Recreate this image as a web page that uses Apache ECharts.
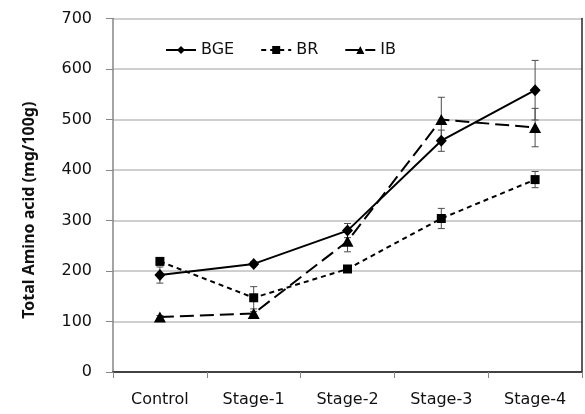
<!DOCTYPE html>
<html>
<head>
<meta charset="utf-8">
<script src="https://cdn.jsdelivr.net/npm/echarts@6/dist/echarts.min.js"></script>
<style>html,body{margin:0;padding:0;background:#fff}#c{width:585px;height:414px}</style>
</head>
<body>
<div id="c"></div>
<script>
const categories = ['Control', 'Stage-1', 'Stage-2', 'Stage-3', 'Stage-4'];
const bgeValues = [192, 214, 280, 458, 558];
const bgeErrors = [16, 4, 14, 21, 59];
const brValues = [219, 147, 204, 304, 381];
const brErrors = [5, 22, 5, 20, 16];
const ibValues = [109, 116, 259, 500, 484];
const ibErrors = [3, 4, 21, 44, 38];
const seriesNames = ['BGE', 'BR', 'IB'];
const yMin = 0, yMax = 700, yInterval = 100;

const FONT = 'DejaVu Sans';

function errSeries(values, errors, name) {
  return {
    type: 'custom',
    name: name + '-err',
    z: 1,
    silent: true,
    data: values.map((v, i) => [i, v, errors[i]]),
    renderItem: function (params, api) {
      const x = api.value(0), v = api.value(1), e = api.value(2);
      const top = api.coord([x, v + e]);
      const bot = api.coord([x, v - e]);
      const cw = 3.5;
      const style = { stroke: '#4d4d4d', lineWidth: 1 };
      return {
        type: 'group',
        children: [
          { type: 'line', shape: { x1: top[0], y1: top[1], x2: bot[0], y2: bot[1] }, style: style },
          { type: 'line', shape: { x1: top[0] - cw, y1: top[1], x2: top[0] + cw, y2: top[1] }, style: style },
          { type: 'line', shape: { x1: bot[0] - cw, y1: bot[1], x2: bot[0] + cw, y2: bot[1] }, style: style }
        ]
      };
    }
  };
}

const chart = echarts.init(document.getElementById('c'), null, { renderer: 'canvas' });
chart.setOption({
  animation: false,
  backgroundColor: '#fff',
  grid: { left: 113, right: 3, top: 18.5, bottom: 42 },
  legend: {
    data: seriesNames,
    left: 160, top: 37,
    itemWidth: 30, itemHeight: 10, itemGap: 26,
    textStyle: { fontFamily: FONT, fontSize: 16, color: '#111' }
  },
  xAxis: [{
    type: 'category',
    data: categories,
    boundaryGap: true,
    axisLine: { lineStyle: { color: '#868686', width: 1.5 } },
    axisTick: { show: true, length: 6, interval: 0, lineStyle: { color: '#868686' } },
    axisLabel: { fontFamily: FONT, fontSize: 16, color: '#111', margin: 20, interval: 0 }
  }, {
    type: 'category',
    data: categories,
    position: 'top',
    boundaryGap: true,
    axisLine: { lineStyle: { color: '#262626', width: 1.5 } },
    axisTick: { show: false },
    axisLabel: { show: false },
    splitLine: { show: false }
  }],
  yAxis: [{
    type: 'value',
    min: yMin, max: yMax, interval: yInterval,
    name: 'Total Amino acid (mg/100g)',
    nameLocation: 'middle',
    nameGap: 76,
    nameTextStyle: { fontFamily: 'Noto Sans', fontWeight: 'bold', fontSize: 16, color: '#111', padding: [0, 30, 0, 0] },
    axisLine: { show: true, lineStyle: { color: '#868686', width: 1.5 } },
    axisTick: { show: true, length: 7, lineStyle: { color: '#868686' } },
    axisLabel: { fontFamily: FONT, fontSize: 16, color: '#111', margin: 21 },
    splitLine: { lineStyle: { color: '#bfbfbf', width: 1.5 } }
  }, {
    type: 'value',
    min: yMin, max: yMax, interval: yInterval,
    position: 'right',
    axisLine: { show: true, lineStyle: { color: '#262626', width: 1.5 } },
    axisTick: { show: false },
    axisLabel: { show: false },
    splitLine: { show: false }
  }],
  series: [
    errSeries(bgeValues, bgeErrors, 'BGE'),
    errSeries(brValues, brErrors, 'BR'),
    errSeries(ibValues, ibErrors, 'IB'),
    {
      name: 'BGE', type: 'line', data: bgeValues, z: 3,
      symbol: 'diamond', symbolSize: [11, 12],
      itemStyle: { color: '#000' },
      lineStyle: { color: '#000', width: 2 }
    },
    {
      name: 'BR', type: 'line', data: brValues, z: 3,
      symbol: 'rect', symbolSize: 9,
      itemStyle: { color: '#000' },
      lineStyle: { color: '#000', width: 2, type: [5, 4] }
    },
    {
      name: 'IB', type: 'line', data: ibValues, z: 3,
      symbol: 'triangle', symbolSize: [12, 11],
      itemStyle: { color: '#000' },
      lineStyle: { color: '#000', width: 2, type: [14, 6] }
    }
  ]
});
</script>
</body>
</html>
